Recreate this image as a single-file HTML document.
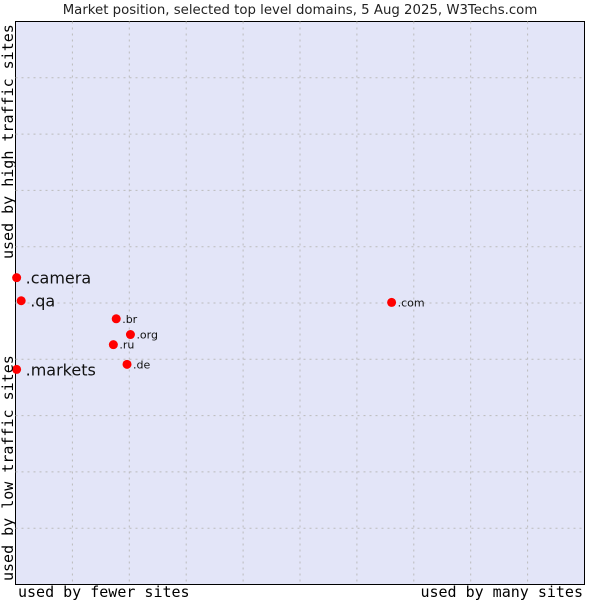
<!DOCTYPE html>
<html><head><meta charset="utf-8"><style>body{margin:0;background:#fff}svg{display:block}</style></head>
<body>
<svg id="chart" width="600" height="600" xmlns="http://www.w3.org/2000/svg">
<text x="300" y="14" text-anchor="middle" font-family="DejaVu Sans, sans-serif" font-size="13.3" fill="#222">Market position, selected top level domains, 5 Aug 2025, W3Techs.com</text>
<rect x="15.5" y="21.5" width="569" height="563" fill="#e3e5f8" stroke="#000"/>
<g id="grid"></g>
<g id="marks"></g>
<text x="18" y="597" font-family="DejaVu Sans Mono, monospace" font-size="15" fill="#000">used by fewer sites</text>
<text x="583" y="597" text-anchor="end" font-family="DejaVu Sans Mono, monospace" font-size="15" fill="#000">used by many sites</text>
<text transform="translate(13,581) rotate(-90)" font-family="DejaVu Sans Mono, monospace" font-size="15" fill="#000">used by low traffic sites</text>
<text transform="translate(13,259) rotate(-90)" font-family="DejaVu Sans Mono, monospace" font-size="15" fill="#000">used by high traffic sites</text>
</svg>
<script>
const domains = [".camera", ".qa", ".br", ".org", ".ru", ".markets", ".de", ".com"];
const xValues = [0.2, 1.0, 17.7, 20.2, 17.2, 0.2, 19.6, 66.1];
const yValues = [54.5, 50.4, 47.2, 44.4, 42.6, 38.2, 39.1, 50.1];
const highlighted = [true, true, false, false, false, true, false, false];
const gridTicks = [10, 20, 30, 40, 50, 60, 70, 80, 90];

const L = 15.5, T = 21.5, W = 569, H = 563;
const NS = "http://www.w3.org/2000/svg";
const xs = v => L + v / 100 * W;
const ys = v => T + H - v / 100 * H;
const grid = document.getElementById('grid');
const marks = document.getElementById('marks');

gridTicks.forEach(t => {
  const vx = document.createElementNS(NS, 'line');
  
  
  vx.setAttribute('x1', xs(t)); vx.setAttribute('x2', xs(t));
  vx.setAttribute('y1', T); vx.setAttribute('y2', T + H);
  vx.setAttribute('stroke', '#bbb'); vx.setAttribute('stroke-dasharray', '2,4');
  grid.appendChild(vx);
  const hz = document.createElementNS(NS, 'line');
  
  
  hz.setAttribute('x1', L); hz.setAttribute('x2', L + W);
  hz.setAttribute('y1', ys(t)); hz.setAttribute('y2', ys(t));
  hz.setAttribute('stroke', '#bbb'); hz.setAttribute('stroke-dasharray', '2,4');
  grid.appendChild(hz);
});

domains.forEach((d, i) => {
  const cx = xs(xValues[i]), cy = ys(yValues[i]);
  const p = document.createElementNS(NS, 'circle');
  
  
  p.setAttribute('cx', cx); p.setAttribute('cy', cy); p.setAttribute('r', 4.5);
  p.setAttribute('fill', '#f00');
  marks.appendChild(p);
  const tx = document.createElementNS(NS, 'text');
  
  
  const big = highlighted[i];
  tx.setAttribute('x', cx + (big ? 9 : 6));
  tx.setAttribute('y', cy + (big ? 6 : 4));
  tx.setAttribute('font-family', 'DejaVu Sans, sans-serif');
  tx.setAttribute('font-size', big ? 16 : 11);
  tx.setAttribute('fill', '#111');
  tx.textContent = d;
  marks.appendChild(tx);
});
</script>
</body></html>
